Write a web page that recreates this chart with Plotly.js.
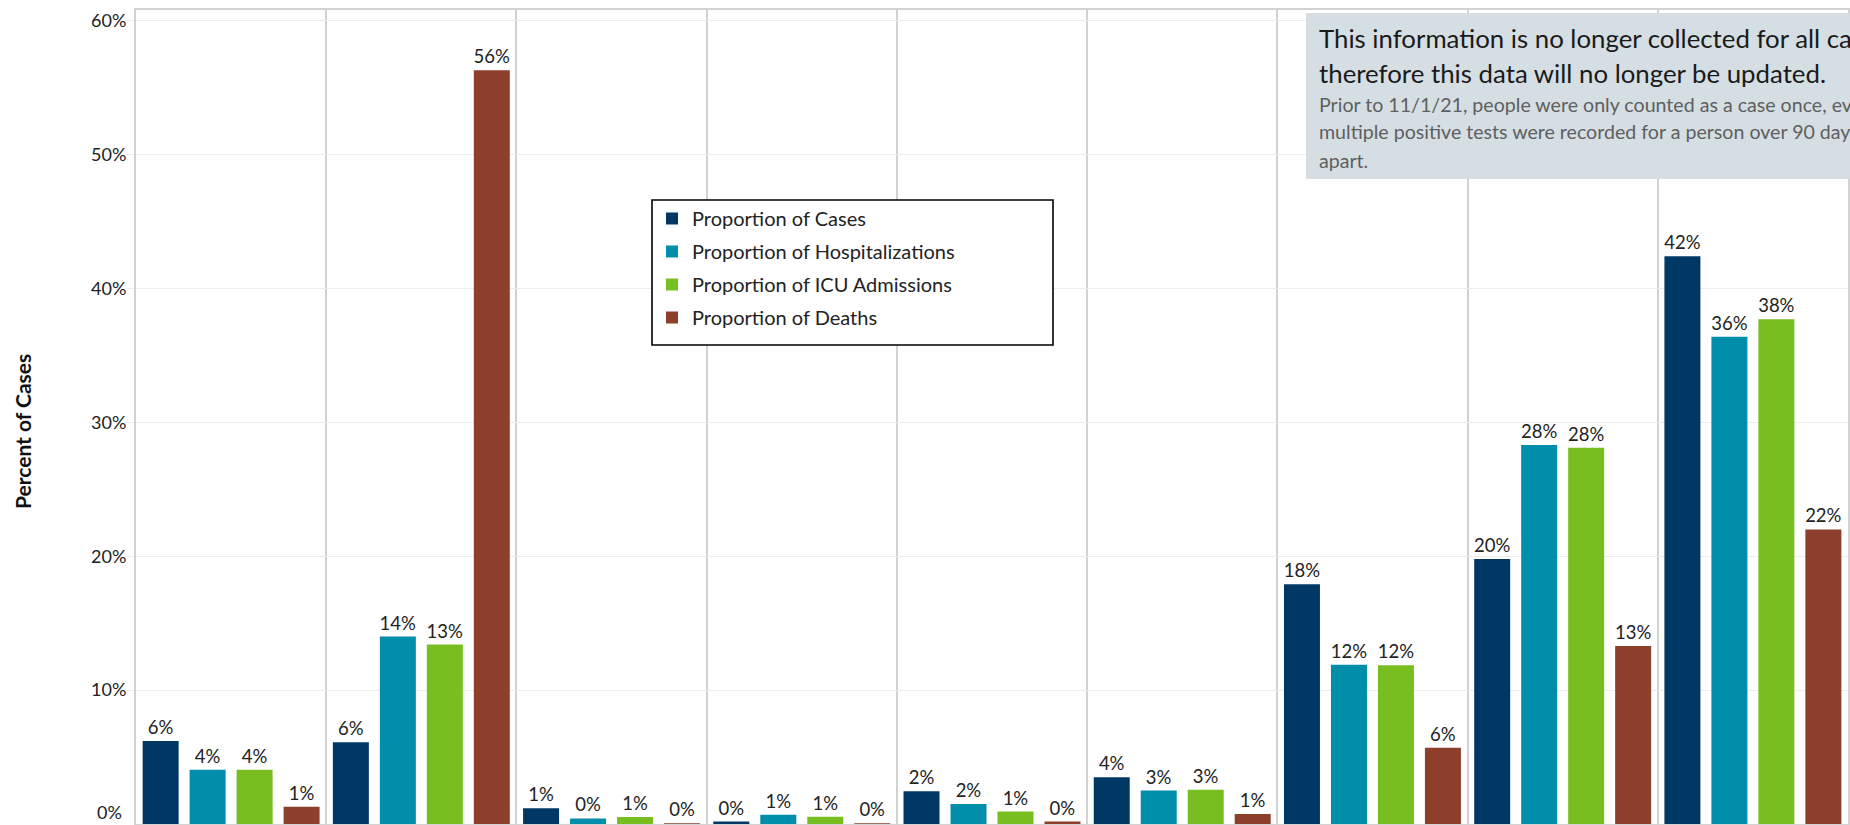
<!DOCTYPE html>
<html>
<head>
<meta charset="utf-8">
<script src="https://cdn.plot.ly/plotly-3.0.1.min.js"></script>
<style>
  html, body { margin: 0; padding: 0; background: #ffffff; overflow: hidden; }
  #chart { width: 1850px; height: 825px; }
</style>
</head>
<body>
<div id="chart"></div>
<script>
// Categories (their labels sit below the visible area of the reference)
const categories = ["Group 1", "Group 2", "Group 3", "Group 4", "Group 5", "Group 6", "Group 7", "Group 8", "Group 9"];

// Values in percent
const casesPct         = [6.2, 6.1, 1.17, 0.18, 2.45, 3.5, 17.9, 19.8, 42.4];
const hospitalPct      = [4.05, 14.0, 0.42, 0.7, 1.5, 2.5, 11.9, 28.3, 36.4];
const icuPct           = [4.05, 13.4, 0.52, 0.55, 0.93, 2.55, 11.85, 28.1, 37.7];
const deathsPct        = [1.28, 56.3, 0.05, 0.05, 0.18, 0.75, 5.7, 13.3, 22.0];

const seriesNames  = ["Proportion of Cases", "Proportion of Hospitalizations", "Proportion of ICU Admissions", "Proportion of Deaths"];
const seriesColors = ["#003865", "#008EAA", "#78BE21", "#8D3F2B"];
const seriesValues = [casesPct, hospitalPct, icuPct, deathsPct];

const yTickVals = [10, 20, 30, 40, 50, 60];
const yTickText = ["10%", "20%", "30%", "40%", "50%", "60%"];
const yZeroLabel = "0%";

const noteHeading = ["This information is no longer collected for all cases and",
                     "therefore this data will no longer be updated."];
const noteBody = ["Prior to 11/1/21, people were only counted as a case once, even if",
                  "multiple positive tests were recorded for a person over 90 days",
                  "apart."];

const FONT = "Lato, 'Open Sans', sans-serif";

const traces = seriesValues.map((vals, i) => ({
  type: "bar",
  name: seriesNames[i],
  legendgroup: "g" + i,
  x: categories,
  y: vals,
  marker: { color: seriesColors[i] },
  texttemplate: "%{y:.0f}%",
  textposition: "outside",
  constraintext: "none",
  cliponaxis: false,
  textfont: { family: FONT, size: 18.5, color: "#222222" },
  hoverinfo: "x+y+name"
}));

// plot area: x 136..1848, y 10..824
const L = 136, R = 1848, T = 10, B = 824;
const px = x => (x - L) / (R - L);
const py = y => (B - y) / (B - T);

const annotations = [
  { xref: "paper", yref: "paper", x: px(22), y: py(432), text: "<b>Percent of Cases</b>",
    textangle: -90, showarrow: false, font: { family: FONT, size: 21, color: "#111111" },
    xanchor: "center", yanchor: "middle" },
  { xref: "paper", yref: "paper", x: px(124), y: py(812), text: yZeroLabel, showarrow: false,
    xanchor: "right", yanchor: "middle", font: { family: FONT, size: 18, color: "#222222" } }
];
const headY = [46, 81];
noteHeading.forEach((t, i) => annotations.push({
  xref: "paper", yref: "paper", x: px(1317), y: py(headY[i] - 8), text: t, showarrow: false,
  xanchor: "left", yanchor: "middle", align: "left",
  font: { family: FONT, size: 25.8, color: "#1a1a1a" }
}));
const bodyY = [110, 138, 167];
noteBody.forEach((t, i) => annotations.push({
  xref: "paper", yref: "paper", x: px(1317), y: py(bodyY[i] - 6), text: t, showarrow: false,
  xanchor: "left", yanchor: "middle", align: "left",
  font: { family: FONT, size: 19.6, color: "#5f5f5f" }
}));

const layout = {
  width: 1850,
  height: 825,
  margin: { l: L, r: 1850 - R, t: T, b: 825 - B, pad: 0 },
  paper_bgcolor: "#ffffff",
  plot_bgcolor: "#ffffff",
  barmode: "group",
  bargap: 0.012,
  bargroupgap: 0.234,
  font: { family: FONT, color: "#222222" },
  xaxis: {
    type: "category",
    tickson: "boundaries",
    showgrid: true,
    gridcolor: "#d2d2d2",
    gridwidth: 2,
    showticklabels: false,
    ticks: "",
    showline: true,
    mirror: true,
    linecolor: "#d2d2d2",
    linewidth: 2,
    zeroline: false,
    fixedrange: true
  },
  yaxis: {
    range: [0, 60.8],
    tickmode: "array",
    tickvals: yTickVals,
    ticktext: yTickText,
    tickfont: { family: FONT, size: 18, color: "#222222" },
    ticks: "outside",
    ticklen: 8,
    tickcolor: "#ededed",
    ticklabelstandoff: -4,
    gridcolor: "#ededed",
    gridwidth: 1,
    showline: true,
    mirror: true,
    linecolor: "#d2d2d2",
    linewidth: 2,
    zeroline: false,
    fixedrange: true
  },
  legend: {
    x: px(652), y: py(199), xanchor: "left", yanchor: "top",
    bgcolor: "rgba(0,0,0,0)", borderwidth: 0,
    font: { family: FONT, size: 20, color: "#222222" },
    tracegroupgap: 4,
    traceorder: "grouped"
  },
  shapes: [
    // legend frame
    { type: "rect", xref: "paper", yref: "paper", x0: px(652), x1: px(1053), y0: py(345), y1: py(200),
      fillcolor: "#ffffff", line: { color: "#000000", width: 1.6 }, layer: "above" },
    // note panel
    { type: "rect", xref: "paper", yref: "paper", x0: px(1306), x1: 1.2, y0: py(179), y1: py(13),
      fillcolor: "#d5dee3", line: { width: 0 }, layer: "above" }
  ],
  annotations: annotations,
  showlegend: true
};

Plotly.newPlot("chart", traces, layout, { displayModeBar: false, staticPlot: true });
</script>
</body>
</html>
